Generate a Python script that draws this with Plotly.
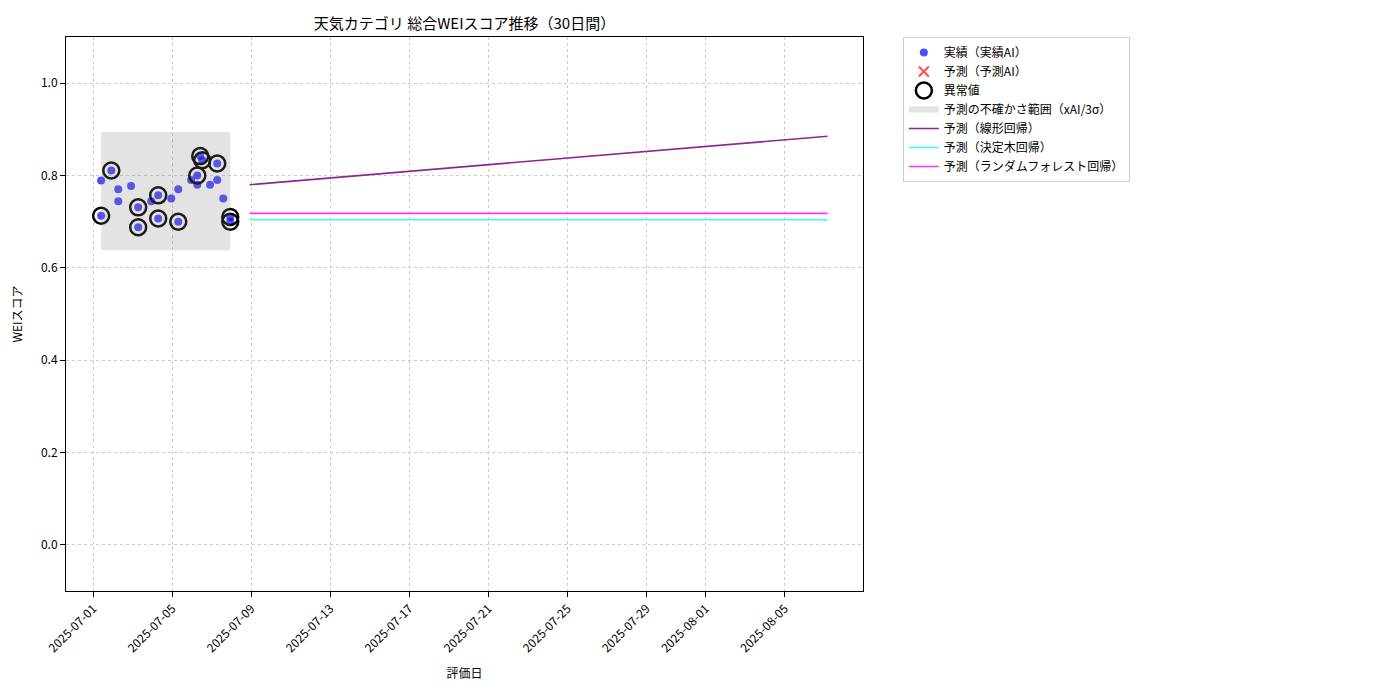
import plotly.graph_objects as go

FONT = "Noto Sans CJK JP"

# actual scores (実績)
act_dates = ["2025-07-01 09:40", "2025-07-01 09:40", "2025-07-01 22:00", "2025-07-02 06:30",
             "2025-07-02 06:30", "2025-07-02 22:00", "2025-07-03 06:40", "2025-07-03 06:40",
             "2025-07-03 22:30", "2025-07-04 07:00", "2025-07-04 07:00", "2025-07-04 22:50",
             "2025-07-05 07:20", "2025-07-05 07:20", "2025-07-05 23:00", "2025-07-06 06:30",
             "2025-07-06 06:30", "2025-07-06 10:00", "2025-07-06 12:30", "2025-07-06 22:00",
             "2025-07-07 06:40", "2025-07-07 06:40", "2025-07-07 14:00", "2025-07-07 22:30",
             "2025-07-07 22:30"]
act_vals = [0.713, 0.789, 0.811, 0.770, 0.744, 0.777, 0.731, 0.688,
            0.744, 0.757, 0.707, 0.750, 0.770, 0.700, 0.790, 0.800,
            0.780, 0.842, 0.833, 0.780, 0.826, 0.790, 0.750, 0.710,
            0.700]
outlier_idx = [0, 2, 6, 7, 9, 10, 13, 15, 17, 18, 20, 23, 24]

# uncertainty band
band_x = ["2025-07-01 09:40", "2025-07-07 22:30"]
band_lo, band_hi = 0.638, 0.894

# forecasts
pred_x = ["2025-07-08 22:00", "2025-08-07 04:00"]
lin_vals = [0.780, 0.885]
tree_vals = [0.704, 0.704]
rf_vals = [0.718, 0.718]

tick_dates = ["2025-07-01", "2025-07-05", "2025-07-09", "2025-07-13", "2025-07-17",
              "2025-07-21", "2025-07-25", "2025-07-29", "2025-08-01", "2025-08-05"]

fig = go.Figure()
fig.add_trace(go.Scatter(x=act_dates, y=act_vals, mode="markers", name="実績（実績AI）",
                         marker=dict(color="rgba(0,0,255,0.7)", size=8)))
fig.add_trace(go.Scatter(x=[None], y=[None], mode="markers", name="予測（予測AI）",
                         marker=dict(color="rgba(255,0,0,0.7)", size=10, symbol="x-thin",
                                     line=dict(width=2, color="rgba(255,0,0,0.7)"))))
fig.add_trace(go.Scatter(x=[act_dates[i] for i in outlier_idx], y=[act_vals[i] for i in outlier_idx],
                         mode="markers", name="異常値",
                         marker=dict(color="rgba(0,0,0,0)", size=16, line=dict(color="black", width=2.5))))
fig.add_trace(go.Scatter(x=[band_x[0], band_x[1], band_x[1], band_x[0], band_x[0]],
                         y=[band_lo, band_lo, band_hi, band_hi, band_lo], fill="toself",
                         mode="none", fillcolor="rgba(128,128,128,0.22)",
                         name="予測の不確かさ範囲（xAI/3σ）"))
fig.add_trace(go.Scatter(x=pred_x, y=lin_vals, mode="lines", name="予測（線形回帰）",
                         line=dict(color="#8e2596", width=1.6)))
fig.add_trace(go.Scatter(x=pred_x, y=tree_vals, mode="lines", name="予測（決定木回帰）",
                         line=dict(color="#33ffff", width=1.6)))
fig.add_trace(go.Scatter(x=pred_x, y=rf_vals, mode="lines", name="予測（ランダムフォレスト回帰）",
                         line=dict(color="#ff33ff", width=1.6)))

axis_common = dict(showline=True, mirror=True, linecolor="black", ticks="outside",
                   tickcolor="black", showgrid=True, gridcolor="#cccccc", griddash="dot",
                   zeroline=False, automargin=False, tickfont=dict(size=12, color="black"))
fig.update_xaxes(range=["2025-06-29 15:00", "2025-08-08 23:00"], tickvals=tick_dates,
                 ticktext=tick_dates, tickangle=-45, title=dict(text="評価日", font=dict(size=12)),
                 **axis_common)
fig.update_yaxes(range=[-0.1, 1.1], tickvals=[0, 0.2, 0.4, 0.6, 0.8, 1.0], tickformat=".1f",
                 title=dict(text="WEIスコア", font=dict(size=12)), **axis_common)
fig.update_layout(
    width=1400, height=700, plot_bgcolor="white", paper_bgcolor="white",
    font=dict(family=FONT, color="black"),
    title=dict(text="天気カテゴリ 総合WEIスコア推移（30日間）", xref="paper", x=0.5, xanchor="center",
               yref="container", y=0.985, yanchor="top", font=dict(size=15)),
    margin=dict(l=58, r=545, t=29, b=117),
    legend=dict(x=1.05, y=1.0, xanchor="left", yanchor="top", bordercolor="#cccccc",
                borderwidth=1, font=dict(size=12), tracegroupgap=0),
)
fig.write_html("out.html")
